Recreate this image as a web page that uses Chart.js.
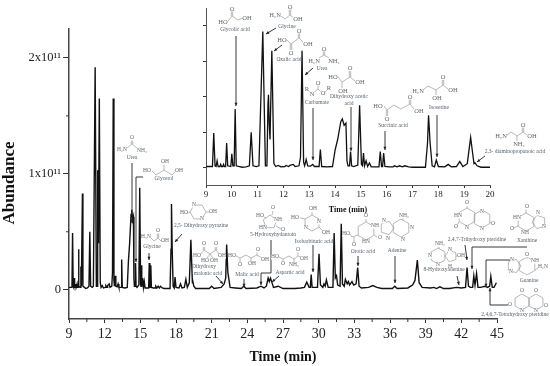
<!DOCTYPE html>
<html>
<head>
<meta charset="utf-8">
<script src="https://cdn.jsdelivr.net/npm/chart.js@4/dist/chart.umd.js"></script>
<style>
    html, body { margin: 0; padding: 0; background: #fff; }
    #wrap { position: relative; width: 550px; height: 366px; overflow: hidden; }
    canvas { position: absolute; left: 0; top: 0; }
</style>
</head>
<body>
<div id="wrap">
    <canvas id="mainChart" width="550" height="366"></canvas>
    <canvas id="insetChart" width="550" height="366"></canvas>
</div>
<script>
// Chromatogram, abundance in units of 1e11
const timeMin = [
    9, 9.25, 9.3, 9.35, 9.39, 9.43, 9.47, 9.54, 9.57, 9.6, 9.65, 9.68, 9.71, 9.76, 9.8, 9.84, 9.96, 10, 10.04, 10.09, 10.13, 10.17, 10.3, 10.4, 10.55, 10.68, 10.75, 10.82, 10.95, 11.05,
    11.2, 11.3, 11.36, 11.4, 11.42, 11.45, 11.48, 11.55, 11.63, 11.7, 11.8, 11.9, 12.05, 12.1, 12.2, 12.25, 12.38, 12.45, 12.6, 12.66, 12.72, 12.78, 12.82, 12.88, 12.94, 13.05, 13.13, 13.2, 13.38, 13.43, 13.48, 13.7,
    13.9, 14.0, 14.1, 14.22, 14.28, 14.35, 14.42, 14.46, 14.5, 14.56, 14.6, 14.64, 14.72, 14.88, 14.95, 15.02, 15.06, 15.1, 15.14, 15.2, 15.26, 15.33, 15.4, 15.7, 15.75, 15.8, 15.84, 15.88, 15.93, 16.1, 16.25, 16.3, 16.4, 16.5, 16.6, 16.7, 16.85, 17.0,
    17.5, 17.58, 17.62, 17.68, 17.76, 17.85, 17.92, 18.0, 18.25, 18.38, 18.5, 18.7, 18.83, 18.95, 19.12, 19.25, 19.33, 19.38, 19.42, 19.5, 19.65, 20,
    20.8, 21, 21.2, 21.8, 22.05, 22.18, 22.26, 22.36, 22.55, 23, 23.5, 23.7, 23.9, 24.8, 25.15, 25.4, 25.6, 25.75, 25.85, 25.95, 26.2, 26.6, 27, 28, 28.5, 28.8, 29, 29.2, 29.3, 29.37, 29.45, 29.9, 30.03, 30.15, 30.35, 30.45, 30.55, 30.65, 30.8,
    31.2, 31.3, 31.4, 31.5, 31.6, 31.8, 31.9, 32.0, 32.15, 32.25, 32.4, 32.5, 32.6, 32.8, 32.95, 33.15, 33.28, 33.4, 33.6, 34.2, 34.55, 34.9, 35.3, 36.2, 36.4, 36.6, 37.5, 37.9, 38.1, 38.3, 38.45, 38.7,
    39.4, 39.7, 39.9, 40.2, 40.5, 41, 41.6, 42.0, 42.35, 42.48, 42.6, 42.75, 42.95, 43.05, 43.15, 43.28, 43.4, 43.6, 44, 44.2, 44.38, 44.48, 44.6, 44.75, 44.95
];
const abundance = [
    .02, .02, .49, .03, .02, .1, .02, .02, .05, .02, .02, .05, .02, .02, .35, .03, .02, .2, .03, .03, .83, .03, .02, .01, .015, .03, .5, .03, .02, .03,
    1.92, .03, .03, .9, 1.03, .6, .4, 1.65, .06, .02, .035, .015, .02, .035, .02, .035, .05, .02, .03, .15, 1.65, .08, .03, .12, .03, .025, .05, .02, .02, .26, .02, .015,
    .02, .25, .4, .65, .69, .6, .63, .1, .03, .03, .23, .03, .02, .04, .88, .05, .03, .21, .03, .1, .02, .07, .015, .015, .23, .02, .02, .21, .02, .015, .015, .03, .015, .03, .015, .03, .015, .01,
    .01, .35, .74, .35, .03, .015, .11, .02, .015, .05, .015, .02, .09, .02, .06, .43, .2, .06, .07, .03, .01, .01,
    .01, .03, .01, .02, .05, .1, .39, .15, .02, .015, .01, .03, .01, .015, .03, .015, .03, .1, .07, .1, .02, .03, .01, .01, .015, .02, .065, .02, .02, .13, .02, .02, .31, .04, .02, .05, .03, .085, .02,
    .02, .49, .1, .12, .04, .03, .57, .05, .03, .09, .05, .07, .04, .07, .04, .05, .19, .03, .015, .02, .035, .02, .01, .01, .03, .01, .015, .04, .08, .255, .06, .02,
    .015, .02, .01, .025, .01, .01, .02, .015, .02, .19, .03, .02, .02, .12, .04, .14, .02, .02, .03, .02, .03, .115, .02, .02, .06
];

// Axis ticks
const mainXTicks = [9, 12, 15, 18, 21, 24, 27, 30, 33, 36, 39, 42, 45];
const mainXMinor = [10.5, 13.5, 16.5, 19.5, 22.5, 25.5, 28.5, 31.5, 34.5, 37.5, 40.5, 43.5];
const mainYTicks = [0, 1, 2];
const mainYLabels = ['0', '1x10¹¹', '2x10¹¹'];
const mainYMinor = [0.5, 1.5];
const insetXTicks = [9, 10, 11, 12, 13, 14, 15, 16, 17, 18, 19, 20];
const insetYTicks = [0, 0.5, 1, 1.5, 2];

// Compound names [text, centre x, centre y]
const mainNames = [
    ['Urea', 132, 158], ['Glycerol', 164, 179], ['Glycine', 152, 247], ['2,5- Dihydroxy pyrazine', 201, 226],
    ['Dihydroxy', 204, 267], ['malonic acid', 208, 274], ['Malic acid', 247, 275], ['5-Hydroxyhydantoin', 273, 235],
    ['Aspartic acid', 290, 273], ['Isobarbituric acid', 314, 242], ['Orotic acid', 363, 252], ['Adenine', 397, 251],
    ['8-Hydroxyadenine', 444, 270], ['2,4,7-Trihydroxy pteridine', 477, 240], ['Xanthine', 527, 241], ['Guanine', 529, 281],
    ['2,4,6,7-Tetrahydroxy pteridine', 515, 315]
];
const insetNames = [
    ['Glycolic acid', 235, 30], ['Glycine', 287, 27], ['Oxalic acid', 289, 60], ['Urea', 322, 69], ['Carbamate', 317, 103],
    ['Dihydroxy acetic', 349, 97], ['acid', 349, 104], ['Succinic acid', 393, 126], ['Isoserine', 439, 108],
    ['2,3- diaminopropanoic acid', 515, 152]
];

// Pointers, each a polyline ending in an arrow head
const mainArrows = [
    [132, 163, 132, 223], [143, 177, 136, 177, 136, 262], [149, 253, 149, 260], [182, 234, 175, 242],
    [216, 276, 223, 284], [244, 279, 244, 287], [271, 240, 271, 273, 261, 273, 261, 285], [279, 276, 272, 282],
    [313, 245, 313, 272], [358, 256, 358, 266], [395, 256, 395, 283], [457, 276, 459, 285], [465, 245, 467, 260],
    [527, 247, 472, 247, 472, 269], [513, 260, 486, 260, 486, 287], [509, 305, 490, 305, 490, 288]
];
const insetArrows = [
    [236, 36, 236, 106], [276, 28, 266, 34], [282, 45, 274, 51], [313, 68, 305, 75], [313, 108, 313, 160],
    [351, 107, 351, 151], [385, 131, 385, 150], [437, 115, 437, 157], [485, 156, 477, 162]
];

// Structure sketches
const ring = (cx, cy, r, n, startDeg) => {
    const pts = [];
    for (let i = 0; i <= n; i++) {
        const a = (startDeg + i * 360 / n) * Math.PI / 180;
        pts.push(cx + r * Math.cos(a), cy + r * Math.sin(a));
    }
    return pts;
};
const mainBonds = [
    [127, 148, 132, 144, 137, 148], [131.3, 144, 131.3, 140], [132.7, 144, 132.7, 140],
    [152, 171, 156, 175, 164, 170, 172, 175, 175, 172], [164, 170, 164, 165],
    [151, 238, 154, 241, 158, 238, 161, 241], [157.3, 238, 157.3, 233], [158.7, 238, 158.7, 233],
    ring(198, 212, 8, 6, 0), [188, 213, 190, 212], [206, 212, 209, 212],
    [200, 255, 204, 250, 210, 254, 216, 250, 220, 255], [203.3, 250, 203.3, 247], [204.7, 250, 204.7, 247], [215.3, 250, 215.3, 247], [216.7, 250, 216.7, 247], [210, 254, 207, 258], [210, 254, 213, 258],
    [236, 256, 240, 258, 246, 255, 251, 258, 257, 255, 262, 258], [240, 258, 240, 263], [251, 258, 251, 262], [257, 255, 257, 252],
    ring(270, 222, 7, 5, -90), [264, 217, 266, 218], [272, 215, 273, 211], [276, 226, 281, 229],
    [279, 257, 283, 259, 289, 256, 294, 259, 298, 256, 302, 258], [283, 259, 283, 262], [294, 259, 294, 262], [298, 256, 298, 252],
    ring(312, 223, 8, 6, -90), [312, 215, 312, 212], [319, 227, 323, 231], [300, 218, 305, 219],
    ring(366, 231, 9, 6, -90), [366, 222, 366, 219], [374, 235, 377, 237], [358, 235, 352, 237, 350, 234], [354, 237, 354, 243],
    ring(401, 228, 9, 6, -90), ring(387, 228, 7, 5, 0), [404, 219, 401, 219],
    ring(438, 256, 8, 6, -90), ring(451, 256, 6, 5, 180), [440, 248, 438, 248], [456, 256, 458, 256],
    ring(467, 217, 9, 6, -90), ring(482, 219, 9, 6, -90), [467, 208, 467, 206], [459, 222, 457, 225], [490, 222, 492, 224],
    ring(526, 222, 9, 6, -90), ring(539, 222, 7, 5, 180), [526, 213, 526, 209], [518, 226, 514, 228],
    ring(527, 266, 9, 6, -90), ring(514, 266, 7, 5, 0), [527, 257, 527, 259], [535, 270, 538, 268],
    ring(522, 302, 8, 6, -90), ring(536, 302, 8, 6, -90)
];
const insetBonds = [
    [228, 21, 232, 16, 238, 20, 243, 18], [231.3, 16, 231.3, 11], [232.7, 16, 232.7, 11],
    [281, 16, 285, 19, 290, 15, 294, 18], [289.3, 15, 289.3, 9], [290.7, 15, 290.7, 9],
    [287, 40, 291, 44, 299, 38, 303, 42], [298.3, 38, 298.3, 33], [299.7, 38, 299.7, 33], [290.3, 44, 290.3, 50], [291.7, 44, 291.7, 50],
    [319, 58, 324, 55, 329, 58], [323.3, 55, 323.3, 51], [324.7, 55, 324.7, 51],
    [308, 90, 311, 93], [313, 93, 318, 89, 321, 92], [325, 92, 328, 89], [318, 89, 318, 85],
    [338, 77, 342, 82, 350, 77, 355, 81], [349.3, 77, 349.3, 71], [350.7, 77, 350.7, 71], [342, 82, 342, 88],
    [384, 106, 387, 110, 394, 105, 401, 109, 410, 104, 414, 109], [386.3, 110, 386.3, 116], [387.7, 110, 387.7, 116], [409.3, 104, 409.3, 99], [410.7, 104, 410.7, 99],
    [423, 90, 428, 86, 436, 90, 443, 85, 448, 89], [442.3, 85, 442.3, 80], [443.7, 85, 443.7, 80], [436, 90, 436, 95],
    [506, 136, 511, 132, 517, 136, 523, 132, 527, 135], [522.3, 132, 522.3, 127], [523.7, 132, 523.7, 127], [517, 136, 517, 141]
];
const mainAtoms = [
    ['H₂N', 122, 150], ['O', 132, 138], ['NH₂', 142, 151],
    ['HO', 147, 171], ['OH', 165, 162], ['OH', 179, 171],
    ['H₂N', 146, 237], ['O', 158, 231], ['OH', 165, 241],
    ['HO', 184, 213], ['OH', 213, 212], ['N', 194, 205], ['N', 202, 219],
    ['HO', 197, 256], ['OH', 222, 256], ['O', 204, 244], ['O', 216, 244], ['HO', 205, 261], ['OH', 214, 261],
    ['HO', 232, 256], ['OH', 265, 260], ['O', 258, 250], ['O', 240, 265], ['OH', 252, 264],
    ['HO', 260, 216], ['O', 273, 208], ['O', 283, 230], ['HN', 263, 228], ['NH', 278, 220],
    ['HO', 275, 257], ['O', 283, 264], ['NH₂', 294, 265], ['O', 298, 250], ['OH', 304, 259],
    ['HO', 295, 218], ['OH', 313, 209], ['N', 319, 222], ['N', 306, 228], ['OH', 326, 233],
    ['O', 366, 216], ['NH', 375, 226], ['O', 380, 238], ['HN', 366, 242], ['HO', 346, 234], ['O', 354, 245],
    ['NH₂', 404, 216], ['N', 412, 228], ['N', 403, 240], ['N', 384, 221], ['N', 388, 239],
    ['NH₂', 440, 244], ['N', 430, 256], ['N', 438, 265], ['N', 450, 250], ['OH', 461, 256], ['H', 450, 267],
    ['O', 467, 203], ['HN', 458, 216], ['O', 456, 227], ['N', 467, 228], ['N', 482, 212], ['O', 493, 224], ['N', 482, 229],
    ['O', 527, 207], ['HN', 517, 218], ['O', 512, 229], ['NH', 525, 233], ['N', 538, 213], ['N', 544, 227],
    ['O', 527, 255], ['NH', 535, 261], ['H₂N', 543, 267], ['N', 512, 260], ['N', 511, 272],
    ['O', 522, 291], ['O', 536, 291], ['O', 510, 305], ['N', 522, 311], ['N', 536, 311], ['O', 546, 306]
];
const insetAtoms = [
    ['HO', 223, 22], ['O', 232, 9], ['OH', 247, 18],
    ['H₂N', 275, 15], ['O', 290, 7], ['OH', 298, 19],
    ['HO', 282, 40], ['O', 299, 31], ['O', 291, 53], ['OH', 308, 44],
    ['H₂N', 314, 61], ['O', 324, 49], ['NH₂', 334, 61],
    ['R', 307, 89], ['N', 312, 94], ['O', 318, 83], ['O', 323, 93], ['R', 329, 88],
    ['HO', 333, 77], ['O', 350, 68], ['OH', 360, 82], ['OH', 343, 91],
    ['HO', 378, 106], ['O', 410, 97], ['O', 387, 119], ['OH', 419, 111],
    ['H₂N', 418, 91], ['O', 443, 77], ['OH', 453, 90], ['OH', 437, 98],
    ['H₂N', 501, 136], ['O', 523, 125], ['OH', 532, 136], ['NH₂', 519, 144]
];

const SERIF = '"Liberation Serif", "Times New Roman", serif';

const drawPolyline = (ctx, pts) => {
    ctx.beginPath();
    ctx.moveTo(pts[0], pts[1]);
    for (let i = 2; i < pts.length; i += 2) ctx.lineTo(pts[i], pts[i + 1]);
    ctx.stroke();
};

const drawArrow = (ctx, pts) => {
    ctx.strokeStyle = '#222';
    ctx.fillStyle = '#222';
    ctx.lineWidth = 0.9;
    drawPolyline(ctx, pts);
    const n = pts.length;
    const a = Math.atan2(pts[n - 1] - pts[n - 3], pts[n - 2] - pts[n - 4]);
    ctx.beginPath();
    ctx.moveTo(pts[n - 2], pts[n - 1]);
    ctx.lineTo(pts[n - 2] - 3.5 * Math.cos(a - 0.45), pts[n - 1] - 3.5 * Math.sin(a - 0.45));
    ctx.lineTo(pts[n - 2] - 3.5 * Math.cos(a + 0.45), pts[n - 1] - 3.5 * Math.sin(a + 0.45));
    ctx.fill();
};

const drawNotes = (ctx, names, arrows, bonds, atoms, atomSize) => {
    ctx.save();
    ctx.textAlign = 'center';
    ctx.textBaseline = 'middle';
    arrows.forEach(a => drawArrow(ctx, a));
    ctx.strokeStyle = '#8a8a8a';
    ctx.lineWidth = 0.6;
    bonds.forEach(b => drawPolyline(ctx, b));
    ctx.font = atomSize + 'px ' + SERIF;
    atoms.forEach(([t, x, y]) => {
        ctx.fillStyle = '#fff';
        const w = ctx.measureText(t).width;
        ctx.fillRect(x - w / 2, y - 2.5, w, 5);
        ctx.fillStyle = '#666';
        ctx.fillText(t, x, y);
    });
    ctx.font = '5.5px ' + SERIF;
    ctx.fillStyle = '#55626d';
    names.forEach(([t, x, y]) => ctx.fillText(t, x, y));
    ctx.restore();
};

// Short unlabelled ticks, placed through the scales
const drawMinorTicks = (chart, xMinor, yMinor, lenX, lenY) => {
    const { ctx, scales: { x, y } } = chart;
    ctx.save();
    ctx.strokeStyle = '#333';
    ctx.lineWidth = 1;
    xMinor.forEach(v => {
        const px = x.getPixelForValue(v);
        drawPolyline(ctx, [px, y.bottom, px, y.bottom + lenX]);
    });
    yMinor.forEach(v => {
        const py = y.getPixelForValue(v);
        drawPolyline(ctx, [x.left, py, x.left - lenY, py]);
    });
    ctx.restore();
};

const traceDataset = (width) => ({
    data: timeMin.map((t, i) => ({ x: t, y: abundance[i] })),
    borderColor: '#111',
    borderWidth: width,
    pointRadius: 0,
    tension: 0,
    fill: false
});

const makeOptions = (cfg) => ({
    responsive: false,
    animation: false,
    events: [],
    layout: { padding: cfg.padding },
    plugins: { legend: { display: false }, tooltip: { enabled: false } },
    scales: {
        x: {
            type: 'linear',
            min: cfg.xMin,
            max: cfg.xMax,
            afterBuildTicks: s => { s.ticks = cfg.xTicks.map(v => ({ value: v })); },
            afterFit: s => { s.height = cfg.xHeight; },
            border: { color: cfg.axisColor, width: cfg.axisWidth },
            grid: { drawOnChartArea: false, tickLength: cfg.xTickLen, tickColor: '#333' },
            ticks: {
                autoSkip: false, maxRotation: 0, padding: cfg.xPad, color: '#222',
                font: { family: SERIF, size: cfg.tickSize },
                callback: v => String(v)
            },
            title: {
                display: true, text: 'Time (min)', color: '#111',
                font: { family: SERIF, size: cfg.titleSize, weight: 'bold' },
                padding: cfg.titlePad
            }
        },
        y: {
            type: 'linear',
            min: cfg.yMin,
            max: cfg.yMax,
            afterBuildTicks: s => { s.ticks = cfg.yTicks.map(v => ({ value: v })); },
            afterFit: s => { s.width = cfg.yWidth; },
            border: { color: cfg.axisColor, width: cfg.axisWidth },
            grid: { drawOnChartArea: false, tickLength: cfg.yTickLen, tickColor: '#333' },
            ticks: {
                autoSkip: false, padding: 2, color: '#222',
                font: { family: SERIF, size: cfg.yTickSize },
                callback: cfg.yLabel
            }
        }
    }
});

new Chart(document.getElementById('mainChart'), {
    type: 'line',
    data: { datasets: [traceDataset(1.4)] },
    options: makeOptions({
        padding: { left: 0, top: 29, right: 53, bottom: 0 },
        xMin: 9, xMax: 45, xTicks: mainXTicks, xHeight: 47, xTickLen: 4, xPad: 3,
        yMin: -0.253, yMax: 2.25, yTicks: mainYTicks, yWidth: 69, yTickLen: 6,
        axisColor: '#444', axisWidth: 1.5, tickSize: 14, yTickSize: 12.5, titleSize: 14,
        titlePad: { top: 0, bottom: 0 },
        yLabel: (v, i) => mainYLabels[i]
    }),
    plugins: [{
        id: 'mainNotes',
        afterDraw: (chart) => {
            const { ctx } = chart;
            drawMinorTicks(chart, mainXMinor, mainYMinor, 3, 3);
            drawNotes(ctx, mainNames, mainArrows, mainBonds, mainAtoms, 5.5);
            ctx.save();
            ctx.translate(10, 183);
            ctx.rotate(-Math.PI / 2);
            ctx.font = 'bold 17px ' + SERIF;
            ctx.fillStyle = '#111';
            ctx.textAlign = 'center';
            ctx.textBaseline = 'middle';
            ctx.fillText('Abundance', 0, 0);
            ctx.restore();
        }
    }]
});

new Chart(document.getElementById('insetChart'), {
    type: 'line',
    data: { datasets: [traceDataset(1.3)] },
    options: makeOptions({
        padding: { left: 0, top: 8, right: 60, bottom: 0 },
        xMin: 9, xMax: 20, xTicks: insetXTicks, xHeight: 181, xTickLen: 3, xPad: 1,
        yMin: -0.24, yMax: 2.25, yTicks: insetYTicks, yWidth: 206, yTickLen: 3,
        axisColor: '#555', axisWidth: 1, tickSize: 9, yTickSize: 9, titleSize: 8,
        titlePad: { top: 3, bottom: 151 },
        yLabel: () => ''
    }),
    plugins: [{
        id: 'insetNotes',
        afterDraw: (chart) => drawNotes(chart.ctx, insetNames, insetArrows, insetBonds, insetAtoms, 6.5)
    }]
});
</script>
</body>
</html>
